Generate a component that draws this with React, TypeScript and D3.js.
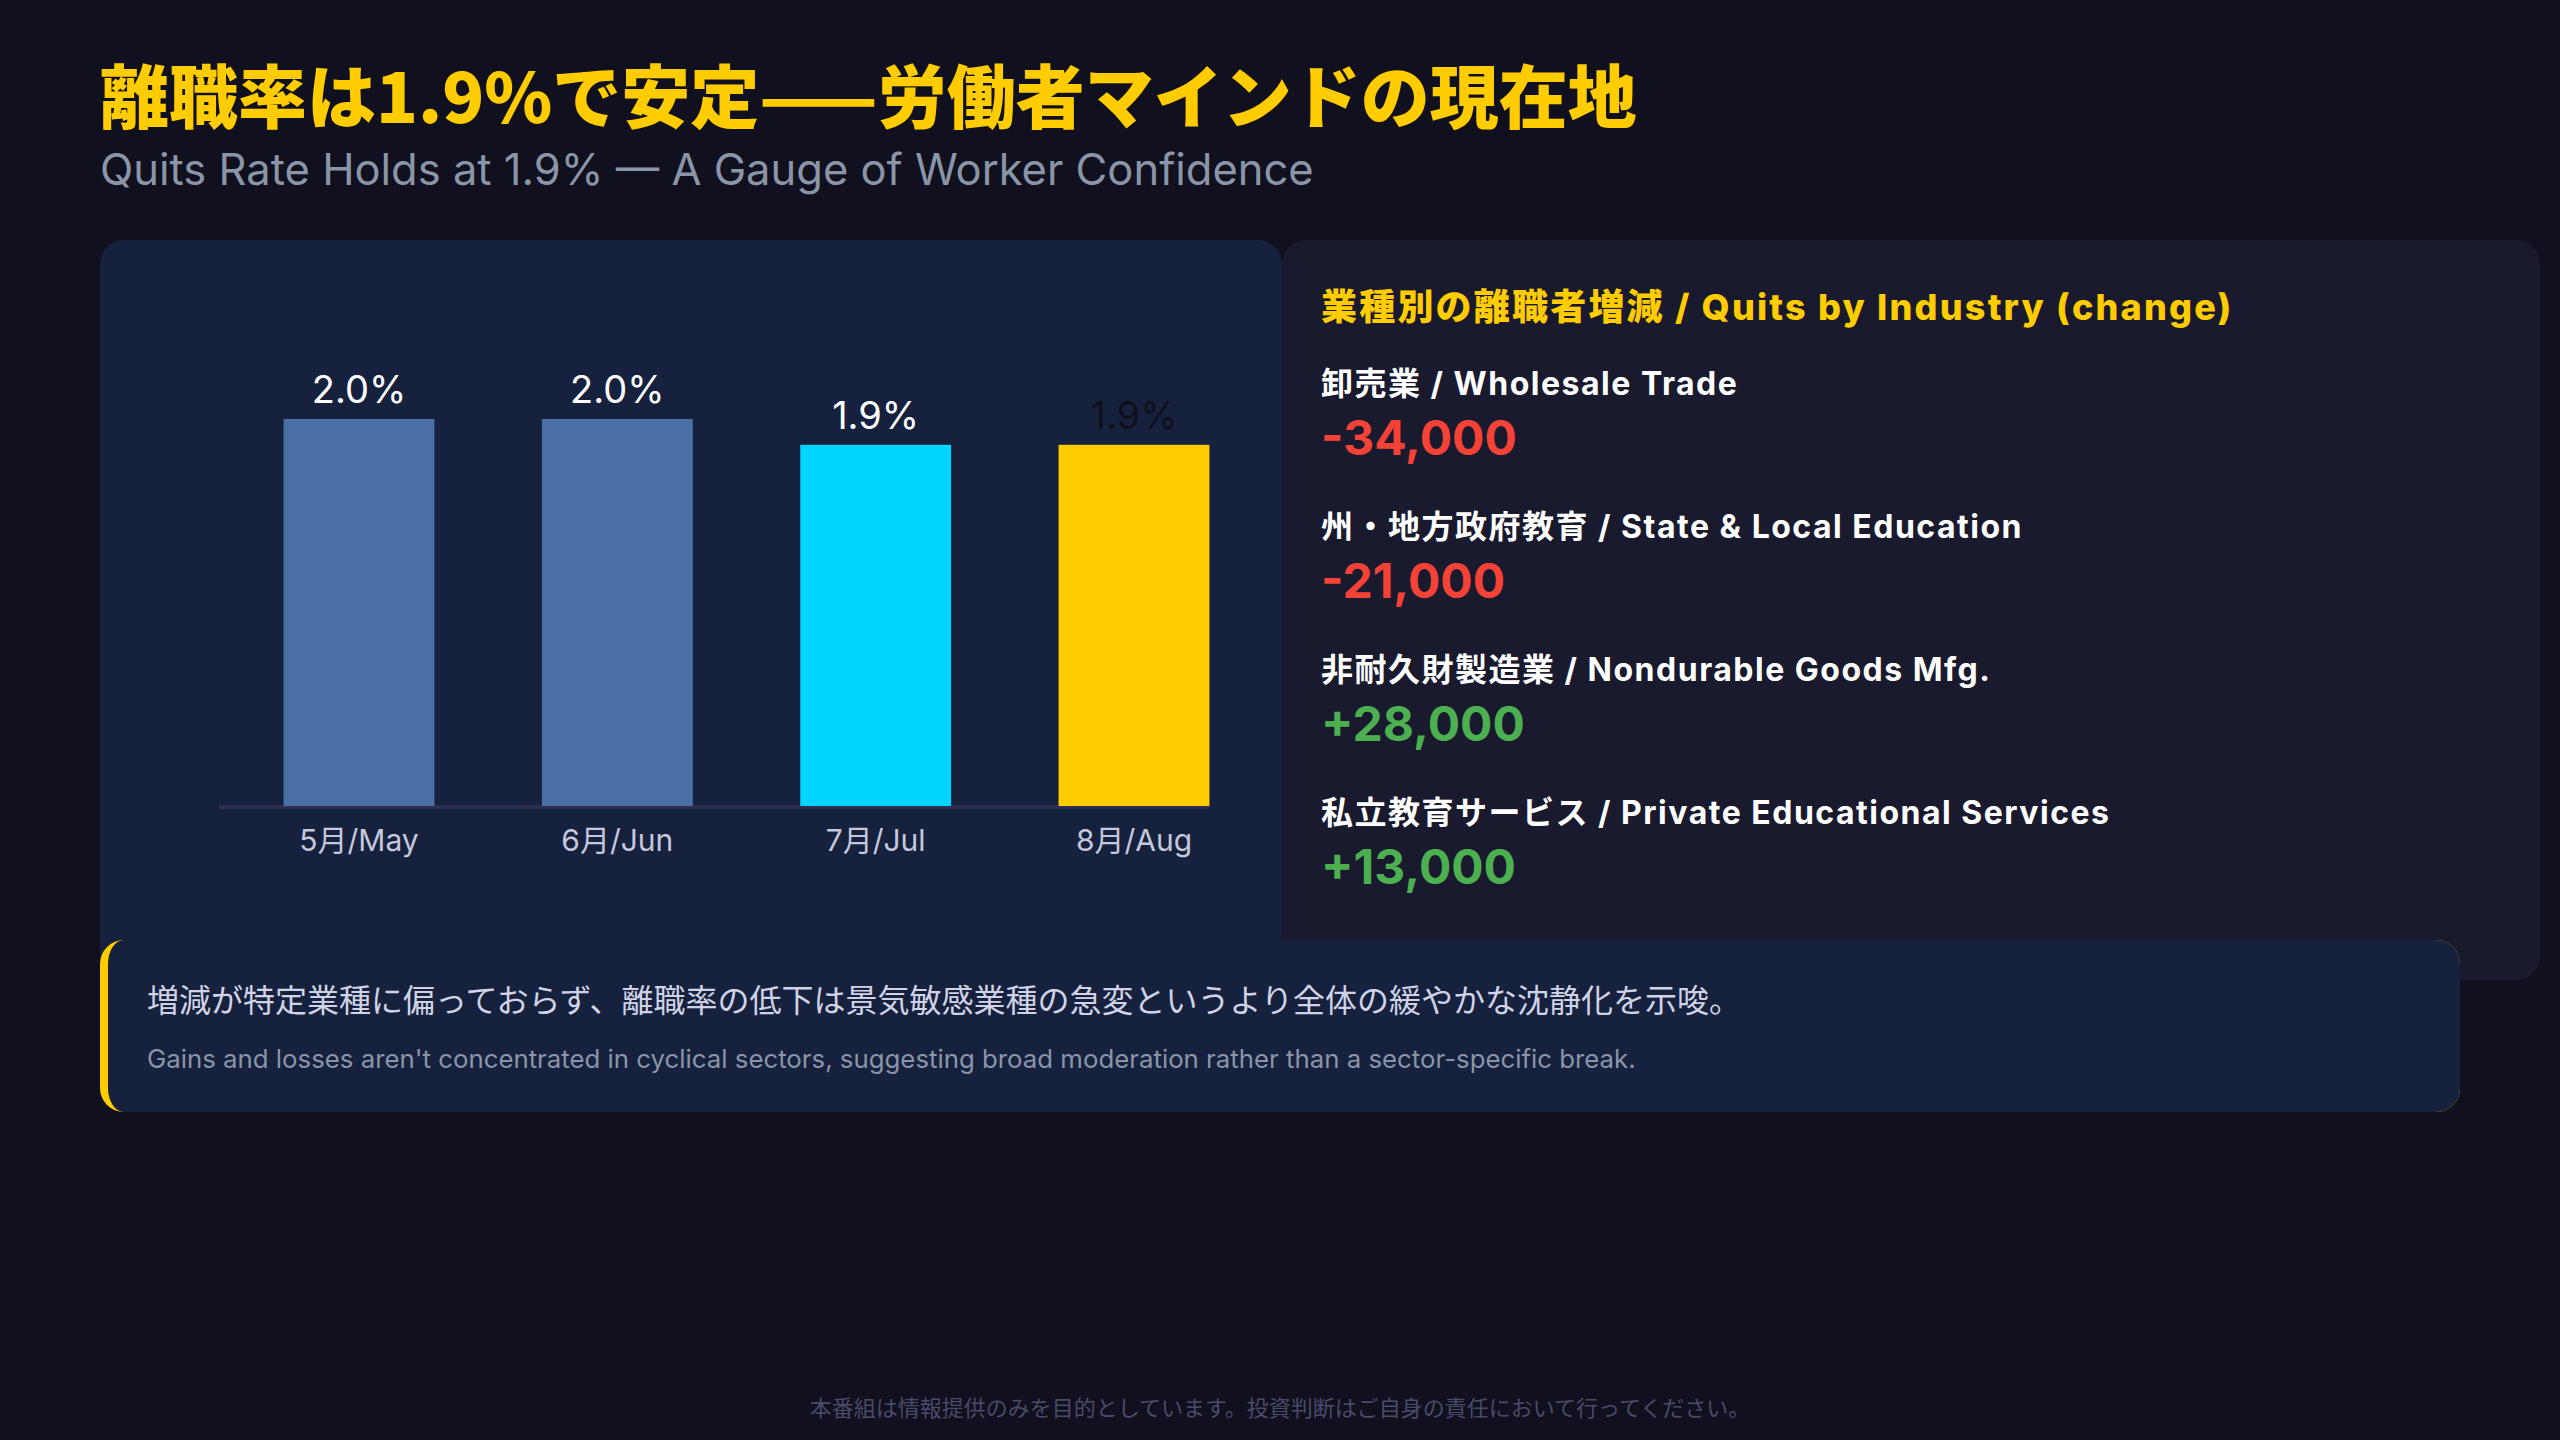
import * as d3 from 'd3';

const MONTHS = ['5月/May', '6月/Jun', '7月/Jul', '8月/Aug'];
const QUITS_RATE = [2.0, 2.0, 1.9, 1.9];

const INDUSTRY_JA = ['卸売業', '州・地方政府教育', '非耐久財製造業', '私立教育サービス'];
const INDUSTRY_EN = ['Wholesale Trade', 'State & Local Education', 'Nondurable Goods Mfg.', 'Private Educational Services'];
const INDUSTRY_CHANGE = [-34000, -21000, 28000, 13000];

const W = 2560;
const H = 1440;
const SANS = "Inter, 'Noto Sans CJK JP', sans-serif";
const CJK = "'Noto Sans CJK JP', sans-serif";

const BAR_FILL = ['#4A6FA5', '#4A6FA5', '#00D4FF', '#FFCC00'];
const BAR_LABEL_FILL = ['#FFFFFF', '#FFFFFF', '#FFFFFF', '#10101C'];

const fmtChange = (v: number) => (v > 0 ? '+' : '-') + d3.format(',')(Math.abs(v));

export default function App() {
  // bar chart scales
  const x = d3.scaleBand<string>()
    .domain(MONTHS)
    .range([219, 1274])
    .paddingInner(0.416)
    .paddingOuter(0.25);

  const y = d3.scaleLinear()
    .domain([0.5, 2.0])
    .range([806, 419]);

  const axisEnd = (x(MONTHS[MONTHS.length - 1]) ?? 0) + x.bandwidth();

  // note box with a CSS-like left border (crescent)
  const nx = 100, ny = 940, nw = 2360, nh = 172, nr = 24, bw = 8;
  const notePath = `M${nx + bw + (nr - bw)},${ny}
    H${nx + nw - nr} A${nr},${nr} 0 0 1 ${nx + nw},${ny + nr}
    V${ny + nh - nr} A${nr},${nr} 0 0 1 ${nx + nw - nr},${ny + nh}
    H${nx + nr} A${nr - bw},${nr} 0 0 1 ${nx + bw},${ny + nh - nr}
    V${ny + nr} A${nr - bw},${nr} 0 0 1 ${nx + nr},${ny} Z`;

  return (
    <svg
      width={W}
      height={H}
      style={{ position: 'absolute', left: 0, top: 0, display: 'block' }}
    >
      <rect x={0} y={0} width={W} height={H} fill="#10101E" />

      {/* Title */}
      <text x={100} y={123} fontFamily={CJK} fontWeight={900} fontSize={69} fill="#FFCC00">
        離職率は1.9%で安定——労働者マインドの現在地
      </text>
      <text x={100} y={185} fontFamily={SANS} fontWeight={400} fontSize={43.5} fill="#8A95A8">
        Quits Rate Holds at 1.9% — A Gauge of Worker Confidence
      </text>

      {/* Panels */}
      <rect x={100} y={240} width={1182} height={740} rx={24} fill="#16213E" />
      <rect x={1282} y={240} width={1258} height={740} rx={24} fill="#1A1A2E" />

      {/* Bar chart */}
      <line x1={219} x2={axisEnd} y1={807} y2={807} stroke="#2E2E52" strokeWidth={4} />
      {MONTHS.map((m, i) => {
        const bx = x(m) ?? 0;
        const top = y(QUITS_RATE[i]);
        const cx = bx + x.bandwidth() / 2;
        return (
          <g key={m}>
            <rect x={bx} y={top} width={x.bandwidth()} height={y(0.5) - top} fill={BAR_FILL[i]} />
            <text
              x={cx} y={top - 16}
              textAnchor="middle" fontFamily={SANS} fontSize={38}
              fill={BAR_LABEL_FILL[i]}
            >
              {QUITS_RATE[i].toFixed(1)}%
            </text>
            <text
              x={cx} y={851}
              textAnchor="middle" fontFamily={SANS} fontSize={30}
              fill="#C5C8DC"
            >
              {m}
            </text>
          </g>
        );
      })}

      {/* Industry list */}
      <text x={1321} y={320} fontFamily={SANS} fontWeight={800} fontSize={36} letterSpacing={2.2} fill="#FFCC00">
        業種別の離職者増減 / Quits by Industry (change)
      </text>
      {INDUSTRY_JA.map((ja, i) => (
        <g key={ja} transform={`translate(1321, ${395 + i * 143})`}>
          <text fontFamily={SANS} fontWeight={700} fontSize={32} letterSpacing={1.5} fill="#FFFFFF">
            {ja} / {INDUSTRY_EN[i]}
          </text>
          <text
            y={60} fontFamily={SANS} fontWeight={700} fontSize={48}
            fill={INDUSTRY_CHANGE[i] < 0 ? '#F44336' : '#4CAF50'}
          >
            {fmtChange(INDUSTRY_CHANGE[i])}
          </text>
        </g>
      ))}

      {/* Note */}
      <rect x={nx} y={ny} width={nw} height={nh} rx={nr} fill="#FFCC00" />
      <path d={notePath} fill="#16213E" />
      <text x={147} y={1012} fontFamily={SANS} fontSize={32} fill="#D0D3E6">
        増減が特定業種に偏っておらず、離職率の低下は景気敏感業種の急変というより全体の緩やかな沈静化を示唆。
      </text>
      <text x={147} y={1068} fontFamily={SANS} fontSize={25.8} fill="#8A94A8">
        Gains and losses aren't concentrated in cyclical sectors, suggesting broad moderation rather than a sector-specific break.
      </text>

      {/* Footer */}
      <text x={1280} y={1416} textAnchor="middle" fontFamily={SANS} fontSize={22} fill="#4A4A6A">
        本番組は情報提供のみを目的としています。投資判断はご自身の責任において行ってください。
      </text>
    </svg>
  );
}
